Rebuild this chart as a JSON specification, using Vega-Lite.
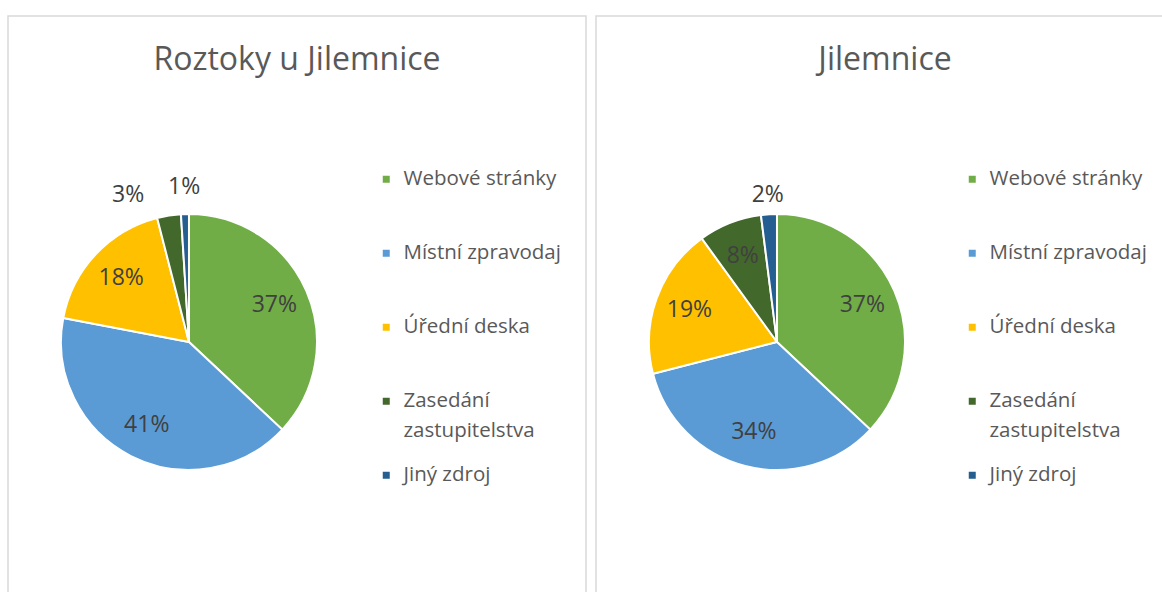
{
  "$schema": "https://vega.github.io/schema/vega-lite/v6.json",
  "padding": {"left": 7, "top": 15, "right": 0, "bottom": 0},
  "background": "white",
  "config": {"view": {"stroke": null}, "font": "Open Sans", "style": {"guide-label": {"lineHeight": 30}}},
  "datasets": {
    "pie": [
      {"city": "Roztoky u Jilemnice", "cat": "Webové stránky", "o": 1, "v": 0.37},
      {"city": "Roztoky u Jilemnice", "cat": "Místní zpravodaj", "o": 2, "v": 0.41},
      {"city": "Roztoky u Jilemnice", "cat": "Úřední deska", "o": 3, "v": 0.18},
      {"city": "Roztoky u Jilemnice", "cat": "Zasedání zastupitelstva", "o": 4, "v": 0.03},
      {"city": "Roztoky u Jilemnice", "cat": "Jiný zdroj", "o": 5, "v": 0.01},
      {"city": "Jilemnice", "cat": "Webové stránky", "o": 1, "v": 0.37},
      {"city": "Jilemnice", "cat": "Místní zpravodaj", "o": 2, "v": 0.34},
      {"city": "Jilemnice", "cat": "Úřední deska", "o": 3, "v": 0.19},
      {"city": "Jilemnice", "cat": "Zasedání zastupitelstva", "o": 4, "v": 0.08},
      {"city": "Jilemnice", "cat": "Jiný zdroj", "o": 5, "v": 0.02}
    ]
  },
  "resolve": {"legend": {"color": "independent"}, "scale": {"color": "independent", "theta": "independent", "x": "independent", "y": "independent"}},
  "spacing": 8,
  "hconcat": [
    {
      "width": 578, "height": 578,
      "view": {"stroke": "#d9d9d9", "strokeWidth": 1.5},
      "title": {"text": "Roztoky u Jilemnice", "font": "Open Sans", "fontSize": 32, "fontWeight": "normal", "color": "#595959", "anchor": "middle", "baseline": "alphabetic", "offset": -86},
      "data": {"name": "pie"},
      "transform": [{"filter": "datum.city == 'Roztoky u Jilemnice'"}],
      "encoding": {
        "x": {"field": "city", "type": "nominal", "scale": {"type": "point", "align": 0.3131}, "axis": null},
        "y": {"field": "city", "type": "nominal", "scale": {"type": "point", "align": 0.564}, "axis": null},
        "theta": {"field": "v", "type": "quantitative", "stack": true},
        "order": {"field": "o", "type": "quantitative"},
        "color": {
          "field": "cat", "type": "nominal",
          "scale": {"domain": ["Webové stránky", "Místní zpravodaj", "Úřední deska", "Zasedání zastupitelstva", "Jiný zdroj"], "range": ["#70AD47", "#5B9BD5", "#FFC000", "#43682B", "#255E91"]},
          "legend": {"title": null, "orient": "none", "legendX": 368, "legendY": 153, "symbolType": "square", "symbolSize": 49, "symbolStrokeWidth": 0, "symbolOpacity": 1, "labelFont": "Open Sans", "labelFontSize": 20.5, "labelColor": "#595959", "labelOffset": 7, "rowPadding": 23, "gridAlign": "all", "padding": 0, "labelLimit": 0, "labelBaseline": "middle", "labelExpr": "datum.label == 'Zasedání zastupitelstva' ? ['Zasedání', 'zastupitelstva'] : datum.label"}
        }
      },
      "layer": [
        {"mark": {"type": "arc", "outerRadius": 128, "stroke": "white", "strokeWidth": 2}},
        {
          "mark": {"type": "text", "font": "Open Sans", "fontSize": 23, "radius": 93},
          "encoding": {
            "color": {"value": "#404040"},
            "text": {"condition": {"test": "datum.v < 0.05", "value": ""}, "field": "v", "type": "quantitative", "format": ".0%"}
          }
        },
        {
          "mark": {"type": "text", "font": "Open Sans", "fontSize": 23, "radius": 155},
          "encoding": {
            "color": {"value": "#404040"},
            "text": {"condition": {"test": "datum.v >= 0.05 || datum.cat == 'Zasedání zastupitelstva'", "value": ""}, "field": "v", "type": "quantitative", "format": ".0%"}
          }
        },
        {
          "mark": {"type": "text", "font": "Open Sans", "fontSize": 23, "radius": 152, "dx": -37, "dy": 3},
          "encoding": {
            "color": {"value": "#404040"},
            "text": {"condition": {"test": "datum.cat != 'Zasedání zastupitelstva'", "value": ""}, "field": "v", "type": "quantitative", "format": ".0%"}
          }
        }
      ]
    },
    {
      "width": 578, "height": 578,
      "view": {"stroke": "#d9d9d9", "strokeWidth": 1.5},
      "title": {"text": "Jilemnice", "font": "Open Sans", "fontSize": 32, "fontWeight": "normal", "color": "#595959", "anchor": "middle", "baseline": "alphabetic", "offset": -86},
      "data": {"name": "pie"},
      "transform": [{"filter": "datum.city == 'Jilemnice'"}],
      "encoding": {
        "x": {"field": "city", "type": "nominal", "scale": {"type": "point", "align": 0.3131}, "axis": null},
        "y": {"field": "city", "type": "nominal", "scale": {"type": "point", "align": 0.564}, "axis": null},
        "theta": {"field": "v", "type": "quantitative", "stack": true},
        "order": {"field": "o", "type": "quantitative"},
        "color": {
          "field": "cat", "type": "nominal",
          "scale": {"domain": ["Webové stránky", "Místní zpravodaj", "Úřední deska", "Zasedání zastupitelstva", "Jiný zdroj"], "range": ["#70AD47", "#5B9BD5", "#FFC000", "#43682B", "#255E91"]},
          "legend": {"title": null, "orient": "none", "legendX": 366, "legendY": 153, "symbolType": "square", "symbolSize": 49, "symbolStrokeWidth": 0, "symbolOpacity": 1, "labelFont": "Open Sans", "labelFontSize": 20.5, "labelColor": "#595959", "labelOffset": 7, "rowPadding": 23, "gridAlign": "all", "padding": 0, "labelLimit": 0, "labelBaseline": "middle", "labelExpr": "datum.label == 'Zasedání zastupitelstva' ? ['Zasedání', 'zastupitelstva'] : datum.label"}
        }
      },
      "layer": [
        {"mark": {"type": "arc", "outerRadius": 128, "stroke": "white", "strokeWidth": 2}},
        {
          "mark": {"type": "text", "font": "Open Sans", "fontSize": 23, "radius": 93},
          "encoding": {
            "color": {"value": "#404040"},
            "text": {"condition": {"test": "datum.v < 0.05", "value": ""}, "field": "v", "type": "quantitative", "format": ".0%"}
          }
        },
        {
          "mark": {"type": "text", "font": "Open Sans", "fontSize": 23, "radius": 147},
          "encoding": {
            "color": {"value": "#404040"},
            "text": {"condition": {"test": "datum.v >= 0.05", "value": ""}, "field": "v", "type": "quantitative", "format": ".0%"}
          }
        }
      ]
    }
  ]
}
